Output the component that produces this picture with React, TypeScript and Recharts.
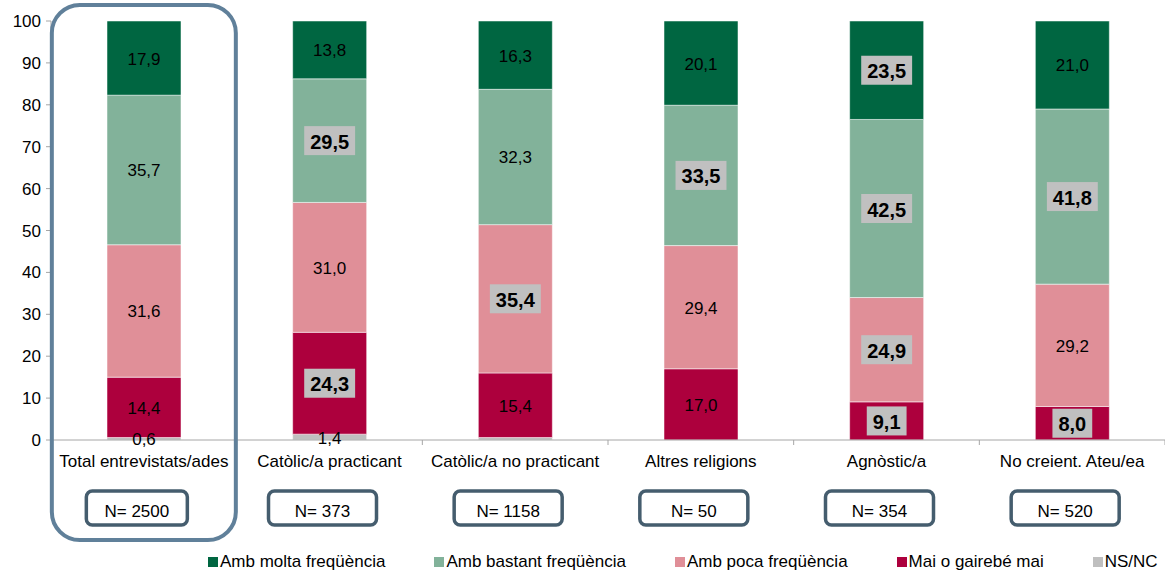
import React from 'react';
import { BarChart, Bar, XAxis, YAxis, LabelList, Legend } from 'recharts';

const CATEGORIES = [
  'Total entrevistats/ades',
  'Catòlic/a practicant',
  'Catòlic/a no practicant',
  'Altres religions',
  'Agnòstic/a',
  'No creient. Ateu/ea',
];
const SAMPLE_N = [2500, 373, 1158, 50, 354, 520];

// stacked bottom -> top
const NSNC = [0.6, 1.4, 0.6, 0, 0, 0];
const MAI = [14.4, 24.3, 15.4, 17.0, 9.1, 8.0];
const POCA = [31.6, 31.0, 35.4, 29.4, 24.9, 29.2];
const BASTANT = [35.7, 29.5, 32.3, 33.5, 42.5, 41.8];
const MOLTA = [17.9, 13.8, 16.3, 20.1, 23.5, 21.0];

// labels drawn bold on a grey box
const BOLD_NSNC = [false, false, false, false, false, false];
const BOLD_MAI = [false, true, false, false, true, true];
const BOLD_POCA = [false, false, true, false, true, false];
const BOLD_BASTANT = [false, true, false, true, true, true];
const BOLD_MOLTA = [false, false, false, false, true, false];

// labels not shown at all
const SHOW_NSNC = [true, true, false, false, false, false];

const Y_TICKS = [0, 10, 20, 30, 40, 50, 60, 70, 80, 90, 100];

const SERIES = [
  { key: 'nsnc', name: 'NS/NC', color: '#bfbfbf', values: NSNC, bold: BOLD_NSNC },
  { key: 'mai', name: 'Mai o gairebé mai', color: '#ad003d', values: MAI, bold: BOLD_MAI },
  { key: 'poca', name: 'Amb poca freqüència', color: '#e08f98', values: POCA, bold: BOLD_POCA },
  { key: 'bastant', name: 'Amb bastant freqüència', color: '#82b29a', values: BASTANT, bold: BOLD_BASTANT },
  { key: 'molta', name: 'Amb molta freqüència', color: '#006641', values: MOLTA, bold: BOLD_MOLTA },
];

const CHART_W = 1165;
const CHART_H = 573;
const Y_AXIS_W = 51;
const X_AXIS_H = 30;
const BAND = (CHART_W - Y_AXIS_W) / CATEGORIES.length;

const data = CATEGORIES.map((cat, i) => {
  const row: Record<string, any> = { cat, n: SAMPLE_N[i] };
  SERIES.forEach((s) => { row[s.key] = s.values[i]; });
  return row;
});

const fmt = (v: number) => v.toFixed(1).replace('.', ',');

const makeLabel = (s: typeof SERIES[number]) => (props: any) => {
  const { x, y, width, height, value, index } = props;
  if (value == null || value === 0) return null;
  if (s.key === 'nsnc' && !SHOW_NSNC[index]) return null;
  const cx = Number(x) + Number(width) / 2;
  const cy = Number(y) + Number(height) / 2;
  const txt = fmt(Number(value));
  if (s.bold[index]) {
    const digits = txt.replace(',', '').length;
    const w = (digits * 0.556 + 0.278) * 20 + 12;
    return (
      <g>
        <rect x={cx - w / 2} y={cy - 14.5} width={w} height={29} fill="#c0c0c0" />
        <text x={cx} y={cy + 1} textAnchor="middle" dominantBaseline="central"
          fontSize={20} fontWeight="bold" fill="#000">{txt}</text>
      </g>
    );
  }
  return (
    <text x={cx} y={cy + 1} textAnchor="middle" dominantBaseline="central"
      fontSize={17} fill="#000">{txt}</text>
  );
};

function CategoryTick(props: any) {
  const { x, y, payload, index } = props;
  const boxW = index === 0 ? 101 : 108;
  return (
    <g>
      <line x1={x + BAND / 2} x2={x + BAND / 2} y1={y} y2={y + 5} stroke="#a6a6a6" />
      <text x={x} y={y + 27} textAnchor="middle" fontSize={17} fill="#000">{payload.value}</text>
      <rect x={x - 7 - boxW / 2} y={y + 51} width={boxW} height={34} rx={6}
        fill="#fff" stroke="#455d6e" strokeWidth={3.5} />
      <text x={x - 7} y={y + 77} textAnchor="middle" fontSize={17} fill="#000">
        {`N= ${SAMPLE_N[index]}`}
      </text>
      {index === 0 && (
        <rect x={x - 92} y={y - 435} width={184} height={535} rx={28}
          fill="none" stroke="#60809a" strokeWidth={4} />
      )}
    </g>
  );
}

function LegendContent() {
  const items = [...SERIES].reverse();
  return (
    <div style={{ height: 0, overflow: 'visible' }}>
      <div style={{ display: 'flex', paddingLeft: 208, fontSize: 17, color: '#000', whiteSpace: 'nowrap' }}>
        {items.map((s) => (
          <div key={s.key} style={{ display: 'flex', alignItems: 'center', marginRight: 49 }}>
            <span style={{ width: 10, height: 10, background: s.color, marginRight: 2, display: 'inline-block' }} />
            <span>{s.name}</span>
          </div>
        ))}
      </div>
    </div>
  );
}

export default function App() {
  return (
    <div style={{ position: 'absolute', left: 0, top: 0, fontFamily: '"Liberation Sans", Arial, sans-serif' }}>
      <BarChart
        width={CHART_W}
        height={CHART_H}
        data={data}
        margin={{ top: 21, right: 0, bottom: 133 - X_AXIS_H, left: 0 }}
        barSize={74}
      >
        <XAxis
          dataKey="cat"
          interval={0}
          height={X_AXIS_H}
          tickSize={0}
          tickMargin={0}
          stroke="#a6a6a6"
          tick={<CategoryTick />}
        />
        <YAxis
          width={Y_AXIS_W}
          domain={[0, 100]}
          ticks={Y_TICKS}
          allowDataOverflow
          stroke="#a6a6a6"
          tickSize={5}
          tickMargin={5}
          tick={{ fill: '#000', fontSize: 17 }}
        />
        <Legend
          content={<LegendContent />}
          wrapperStyle={{ top: 552, left: 0, bottom: 'auto', width: CHART_W }}
        />
        {SERIES.map((s) => (
          <Bar
            key={s.key}
            dataKey={s.key}
            name={s.name}
            stackId="a"
            fill={s.color}
            stroke="#ffffff"
            strokeOpacity={0.5}
            strokeWidth={1}
            isAnimationActive={false}
          >
            <LabelList dataKey={s.key} content={makeLabel(s)} />
          </Bar>
        ))}
      </BarChart>
    </div>
  );
}
